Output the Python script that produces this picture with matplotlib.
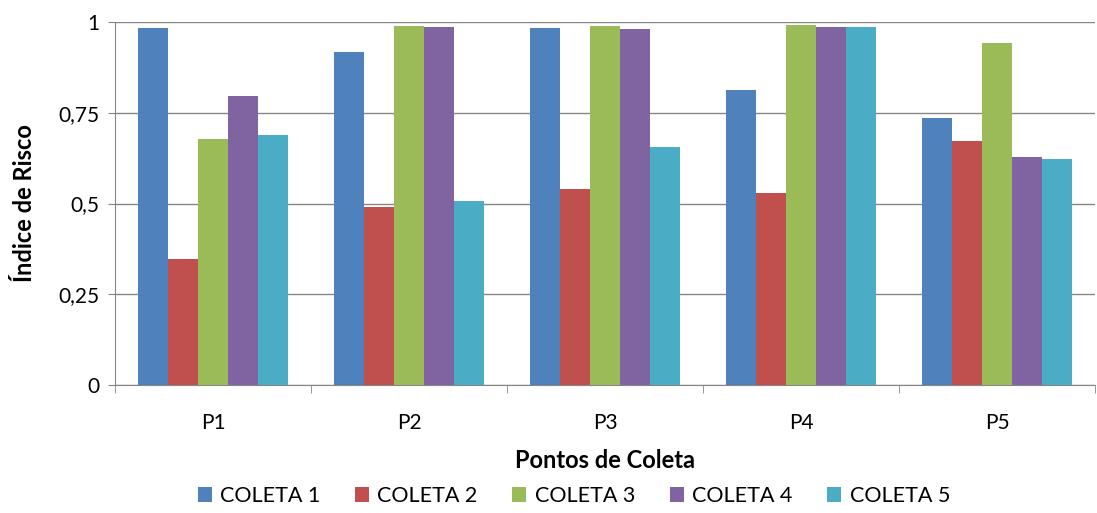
import numpy as np
import matplotlib
matplotlib.use("Agg")
import matplotlib.pyplot as plt

plt.rcParams['font.family'] = ['Lato', 'DejaVu Sans']

pontos = ["P1", "P2", "P3", "P4", "P5"]
coletas = ["COLETA 1", "COLETA 2", "COLETA 3", "COLETA 4", "COLETA 5"]
valores = [
    [0.983, 0.917, 0.983, 0.813, 0.736],  # coleta 1
    [0.347, 0.490, 0.540, 0.529, 0.672],  # coleta 2
    [0.678, 0.989, 0.989, 0.992, 0.942],  # coleta 3
    [0.796, 0.986, 0.981, 0.986, 0.628],  # coleta 4
    [0.689, 0.507, 0.656, 0.986, 0.623],  # coleta 5
]
cores = ["#4F81BD", "#C0504D", "#9BBB59", "#8064A2", "#4BACC6"]

fig = plt.figure(figsize=(10.97, 5.13), dpi=100)
ax = fig.add_axes([115/1097, 1-385/513, 980/1097, 363/513])

x = np.arange(len(pontos))
n = len(coletas)
w = 1/(n + 1.5)
for i, (nome, vals) in enumerate(zip(coletas, valores)):
    ax.bar(x - 0.5 + 0.75*w + i*w + w/2, vals, width=w, color=cores[i], label=nome, zorder=3)

ax.set_xlim(-0.5, len(pontos) - 0.5)
ax.set_ylim(0, 1)
ax.set_yticks([0, 0.25, 0.5, 0.75, 1])
ax.set_yticklabels(["0", "0,25", "0,5", "0,75", "1"])
ax.yaxis.grid(True, color="#868686", linewidth=1, zorder=0)
ax.set_xticks(x)
ax.set_xticklabels(pontos)
ax.set_xticks(np.arange(-0.5, len(pontos)), minor=True)
ax.tick_params(axis="x", which="major", length=0, labelsize=15, pad=20)
ax.tick_params(axis="x", which="minor", length=6, color="#868686", direction="out")
ax.tick_params(axis="y", length=5, color="#868686", labelsize=15, pad=6)
for s in ["top", "right"]:
    ax.spines[s].set_visible(False)
for s in ["left", "bottom"]:
    ax.spines[s].set_color("#868686")

ax.set_xlabel("Pontos de Coleta", fontsize=17, fontweight="bold", labelpad=12)
ax.set_ylabel("Índice de Risco", fontsize=17, fontweight="bold", labelpad=16)

fig.legend(*ax.get_legend_handles_labels(), loc="center", bbox_to_anchor=(0.523, 0.033),
           ncol=5, frameon=False, fontsize=15.5, handlelength=0.65, handleheight=0.65,
           handletextpad=0.4, columnspacing=1.6)

fig.savefig("out.png", dpi=100)
